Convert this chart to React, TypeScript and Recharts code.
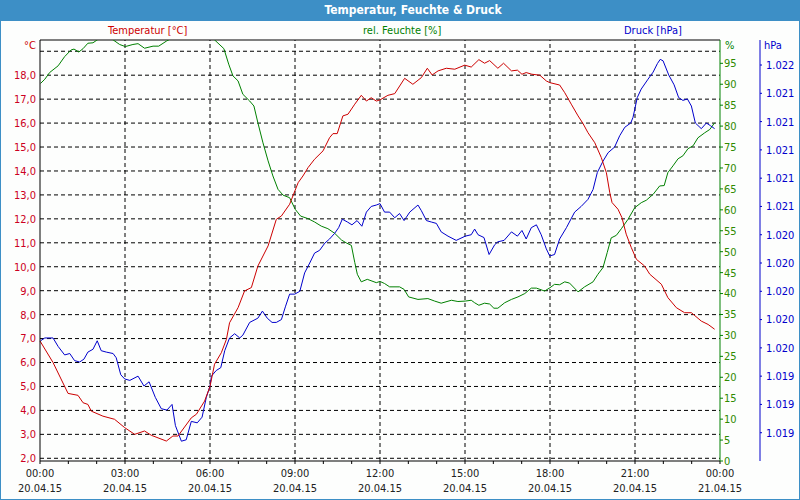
import React from 'react'
import { LineChart, Line, XAxis, YAxis, ReferenceLine } from 'recharts'

// readings, hours since 20.04.15 00:00
const tempHours = [0, 0.46, 0.99, 1.34, 1.52, 1.69, 1.81, 2.22, 2.63, 2.99, 3.34, 3.69, 3.93, 4.46, 4.69, 4.87, 5.34, 5.52, 5.81, 6.0, 6.16, 6.4, 6.58, 6.69, 6.99, 7.22, 7.46, 7.69, 8.05, 8.34, 8.52, 8.81, 9.11, 9.28, 9.46, 9.69, 9.99, 10.22, 10.34, 10.49, 10.69, 10.87, 11.11, 11.34, 11.52, 11.69, 11.87, 12.0, 12.28, 12.52, 12.87, 13.16, 13.46, 13.67, 13.84, 14.05, 14.34, 14.64, 14.99, 15.22, 15.49, 15.69, 15.87, 16.16, 16.36, 16.64, 16.85, 17.01, 17.16, 17.36, 17.64, 17.87, 17.99, 18.34, 18.52, 18.75, 18.99, 19.16, 19.34, 19.58, 19.81, 19.99, 20.11, 20.19, 20.4, 20.54, 20.69, 20.87, 21.05, 21.34, 21.52, 21.93, 22.16, 22.46, 22.75, 22.99, 23.34, 23.58, 23.81]
const tempValues = [6.9, 6.0, 4.71, 4.63, 4.32, 4.25, 3.97, 3.76, 3.63, 3.28, 3.0, 3.14, 2.96, 2.72, 2.93, 2.93, 3.69, 3.84, 4.39, 5.0, 5.93, 6.41, 6.97, 7.66, 8.29, 8.99, 9.13, 10.03, 10.87, 11.98, 12.12, 12.61, 13.51, 13.79, 14.14, 14.49, 14.84, 15.39, 15.56, 15.56, 16.3, 16.37, 16.79, 17.16, 16.92, 17.06, 16.92, 16.97, 17.16, 17.23, 17.87, 17.62, 17.9, 18.29, 18.01, 18.18, 18.29, 18.25, 18.42, 18.34, 18.65, 18.5, 18.61, 18.29, 18.5, 18.18, 18.21, 18.04, 18.11, 18.04, 18.0, 17.76, 17.69, 17.59, 17.27, 16.79, 16.3, 15.99, 15.6, 15.18, 14.56, 13.93, 13.09, 12.68, 12.4, 12.05, 11.36, 10.8, 10.31, 10.03, 9.69, 9.27, 8.71, 8.29, 8.08, 8.08, 7.73, 7.59, 7.39]

const humHours = [0.02, 0.17, 0.34, 0.64, 0.87, 1.1, 1.2, 1.37, 1.52, 1.69, 1.87, 2.02, 2.3, 2.58, 2.81, 3.01, 3.28, 3.46, 3.69, 3.99, 4.19, 4.46, 4.6, 5.0, 5.5, 5.9, 6.16, 6.49, 6.66, 6.81, 6.99, 7.16, 7.4, 7.55, 7.69, 7.87, 8.05, 8.22, 8.4, 8.58, 8.81, 9.01, 9.2, 9.46, 9.69, 9.93, 10.16, 10.4, 10.64, 10.81, 10.99, 11.11, 11.2, 11.34, 11.55, 11.87, 12.0, 12.16, 12.34, 12.69, 12.85, 13.01, 13.34, 13.69, 13.93, 14.16, 14.52, 14.75, 15.01, 15.22, 15.34, 15.49, 15.69, 15.87, 16.02, 16.16, 16.4, 16.64, 16.87, 17.11, 17.34, 17.52, 17.81, 18.0, 18.16, 18.34, 18.52, 18.69, 18.99, 19.22, 19.52, 19.69, 19.87, 20.02, 20.16, 20.34, 20.52, 20.75, 20.99, 21.22, 21.4, 21.64, 21.87, 22.03, 22.16, 22.34, 22.52, 22.69, 22.87, 23.05, 23.22, 23.46, 23.64, 23.81]
const humValues = [90.2, 91.2, 92.8, 94.4, 96.6, 98.2, 98.4, 97.7, 98.5, 99.8, 99.9, 100.6, 101.5, 100.6, 99.5, 99.0, 99.5, 99.7, 98.6, 99.1, 99.1, 100.3, 100.8, 102.5, 103, 102, 100.6, 98.5, 94.8, 92.0, 90.8, 87.6, 86.0, 84.8, 80.8, 76.0, 71.7, 68.1, 64.9, 63.5, 62.9, 60.1, 58.5, 57.9, 57.1, 56.1, 55.5, 54.4, 52.8, 52.1, 51.5, 47.4, 44.6, 42.8, 43.4, 42.6, 42.9, 42.4, 41.6, 41.6, 41.0, 39.2, 38.6, 38.8, 38.2, 37.7, 38.4, 38.1, 38.2, 38.4, 37.8, 37.2, 37.7, 37.5, 36.5, 36.5, 37.8, 38.6, 39.2, 40.0, 41.3, 41.3, 40.6, 41.4, 42.2, 42.1, 42.8, 42.5, 40.4, 41.6, 42.8, 44.6, 46.2, 49.8, 53.3, 53.9, 55.5, 57.7, 60.5, 61.7, 62.3, 63.7, 65.7, 65.8, 68.9, 70.5, 72.2, 72.9, 74.6, 75.3, 77.2, 78.4, 79.2, 80.8]

const pressHours = [0.02, 0.17, 0.46, 0.64, 0.87, 1.05, 1.22, 1.4, 1.55, 1.69, 1.87, 2.02, 2.16, 2.34, 2.58, 2.69, 2.85, 2.99, 3.17, 3.46, 3.67, 3.85, 4.07, 4.28, 4.48, 4.66, 4.78, 4.99, 5.16, 5.34, 5.55, 5.72, 5.87, 6.0, 6.05, 6.22, 6.38, 6.52, 6.69, 6.87, 7.05, 7.16, 7.4, 7.69, 7.85, 8.02, 8.19, 8.34, 8.52, 8.66, 8.81, 8.99, 9.17, 9.34, 9.52, 9.69, 9.87, 10.05, 10.22, 10.4, 10.54, 10.67, 10.85, 11.01, 11.19, 11.36, 11.52, 11.69, 11.87, 12.0, 12.16, 12.34, 12.52, 12.69, 12.85, 13.05, 13.34, 13.46, 13.64, 13.81, 13.99, 14.16, 14.4, 14.69, 15.01, 15.22, 15.34, 15.46, 15.67, 15.85, 16.05, 16.16, 16.38, 16.64, 16.85, 17.01, 17.16, 17.34, 17.52, 17.69, 17.87, 17.99, 18.16, 18.34, 18.58, 18.87, 19.1, 19.34, 19.52, 19.67, 19.87, 20.05, 20.28, 20.46, 20.64, 20.85, 20.93, 21.08, 21.22, 21.46, 21.64, 21.79, 21.89, 21.99, 22.19, 22.38, 22.54, 22.69, 22.85, 22.99, 23.13, 23.34, 23.52, 23.67, 23.81]
const pressValues = [1019.65, 1019.67, 1019.67, 1019.61, 1019.55, 1019.56, 1019.51, 1019.5, 1019.52, 1019.57, 1019.59, 1019.65, 1019.58, 1019.57, 1019.56, 1019.53, 1019.41, 1019.38, 1019.37, 1019.4, 1019.33, 1019.36, 1019.25, 1019.17, 1019.16, 1019.2, 1019.05, 1018.94, 1018.95, 1019.08, 1019.07, 1019.11, 1019.25, 1019.33, 1019.4, 1019.44, 1019.46, 1019.58, 1019.67, 1019.7, 1019.67, 1019.69, 1019.78, 1019.81, 1019.86, 1019.81, 1019.78, 1019.78, 1019.8, 1019.89, 1019.98, 1019.98, 1020.0, 1020.13, 1020.2, 1020.27, 1020.29, 1020.34, 1020.37, 1020.41, 1020.45, 1020.51, 1020.49, 1020.47, 1020.5, 1020.46, 1020.56, 1020.6, 1020.61, 1020.62, 1020.56, 1020.56, 1020.52, 1020.55, 1020.5, 1020.56, 1020.61, 1020.57, 1020.5, 1020.49, 1020.48, 1020.42, 1020.39, 1020.36, 1020.39, 1020.4, 1020.44, 1020.4, 1020.38, 1020.26, 1020.33, 1020.35, 1020.36, 1020.42, 1020.39, 1020.43, 1020.37, 1020.45, 1020.47, 1020.4, 1020.3, 1020.25, 1020.26, 1020.37, 1020.45, 1020.56, 1020.6, 1020.65, 1020.72, 1020.84, 1020.92, 1020.98, 1021.02, 1021.1, 1021.16, 1021.19, 1021.23, 1021.37, 1021.43, 1021.5, 1021.55, 1021.61, 1021.64, 1021.63, 1021.53, 1021.46, 1021.37, 1021.35, 1021.36, 1021.31, 1021.19, 1021.15, 1021.19, 1021.17, 1021.15]

// axes
const hourTicks = [0, 1, 2, 3, 4, 5, 6, 7, 8, 9, 10, 11, 12, 13, 14, 15, 16, 17, 18, 19, 20, 21, 22, 23, 24]
const gridHours = [3, 6, 9, 12, 15, 18, 21]
const timeLabels = ['00:00', '03:00', '06:00', '09:00', '12:00', '15:00', '18:00', '21:00', '00:00']
const dateLabels = ['20.04.15', '20.04.15', '20.04.15', '20.04.15', '20.04.15', '20.04.15', '20.04.15', '20.04.15', '21.04.15']
const tempTicks = [2, 3, 4, 5, 6, 7, 8, 9, 10, 11, 12, 13, 14, 15, 16, 17, 18]
const tempGrid = [2, 3, 4, 5, 6, 7, 8, 9, 10, 11, 12, 13, 14, 15, 16, 17, 18, 19]
const humTicks = [0, 5, 10, 15, 20, 25, 30, 35, 40, 45, 50, 55, 60, 65, 70, 75, 80, 85, 90, 95]
const pressTicks = [1019.0, 1019.2, 1019.4, 1019.6, 1019.8, 1020.0, 1020.2, 1020.4, 1020.6, 1020.8, 1021.0, 1021.2, 1021.4, 1021.6]

const TEMP_DOMAIN: [number, number] = [1.887, 19.47]
const HUM_DOMAIN: [number, number] = [0, 100.57]
const PRESS_DOMAIN: [number, number] = [1018.8, 1021.777]

const RED = '#cc0000'
const GREEN = '#008000'
const BLUE = '#0000cc'
const FRAME = '#3d8fc6'
const FONT = "'DejaVu Sans Condensed', 'Liberation Sans', sans-serif"

const tempData = tempHours.map((t, i) => ({ t, v: tempValues[i] }))
const humData = humHours.map((t, i) => ({ t, v: humValues[i] }))
const pressData = pressHours.map((t, i) => ({ t, v: pressValues[i] }))

const TimeTick = (props: any) => {
    const { x, y, payload } = props
    const h = payload.value
    if (h % 3 !== 0) return <g />
    const i = h / 3
    return (
        <g>
            <text x={x} y={y + 11} textAnchor="middle" fontSize={11} fontFamily={FONT} fill="#222">{timeLabels[i]}</text>
            <text x={x} y={y + 26} textAnchor="middle" fontSize={11} fontFamily={FONT} fill="#222">{dateLabels[i]}</text>
        </g>
    )
}

const label = (text: string, color: string, style: React.CSSProperties) => (
    <div style={{ position: 'absolute', color, fontSize: 11, fontFamily: FONT, lineHeight: '13px', whiteSpace: 'nowrap', ...style }}>
        {text}
    </div>
)

export default function App() {
    return (
        <div style={{ position: 'absolute', left: 0, top: 0, width: 800, height: 500, background: '#fdfefd', overflow: 'hidden' }}>
            <LineChart width={800} height={500} margin={{ top: 40, right: 0, bottom: 0, left: 0 }} style={{ position: 'absolute', left: 0, top: 0 }}>
                <XAxis
                    xAxisId="time"
                    type="number"
                    dataKey="t"
                    domain={[0, 24]}
                    ticks={hourTicks}
                    interval={0}
                    height={39}
                    tick={<TimeTick />}
                    tickSize={3}
                    tickMargin={2}
                    axisLine={{ stroke: '#000' }}
                    tickLine={{ stroke: '#000' }}
                />
                <YAxis
                    yAxisId="temp"
                    orientation="left"
                    width={40}
                    type="number"
                    domain={TEMP_DOMAIN}
                    ticks={tempTicks}
                    interval={0}
                    allowDataOverflow
                    tickLine={false}
                    tickSize={0}
                    tickMargin={4}
                    axisLine={{ stroke: '#000' }}
                    tick={{ fill: '#cc0022', fontSize: 11, fontFamily: FONT }}
                    tickFormatter={(v: number) => v.toFixed(1).replace('.', ',')}
                />
                <YAxis
                    yAxisId="hum"
                    orientation="right"
                    width={40}
                    type="number"
                    domain={HUM_DOMAIN}
                    ticks={humTicks}
                    interval={0}
                    allowDataOverflow
                    tickSize={3}
                    tickMargin={1}
                    axisLine={{ stroke: GREEN }}
                    tickLine={{ stroke: GREEN }}
                    tick={{ fill: '#2f8a00', fontSize: 11, fontFamily: FONT, textAnchor: 'start' }}
                />
                <YAxis
                    yAxisId="press"
                    orientation="right"
                    width={40}
                    type="number"
                    domain={PRESS_DOMAIN}
                    ticks={pressTicks}
                    interval={0}
                    allowDataOverflow
                    tickSize={2}
                    tickMargin={4}
                    axisLine={{ stroke: BLUE }}
                    tickLine={{ stroke: BLUE }}
                    tick={{ fill: BLUE, fontSize: 11, fontFamily: FONT, textAnchor: 'start' }}
                    tickFormatter={(v: number) => (Math.round(v) / 1000).toFixed(3)}
                />

                {/* dashed grid */}
                {tempGrid.map(v => (
                    <ReferenceLine key={'h' + v} xAxisId="time" yAxisId="temp" y={v} stroke="#000" strokeDasharray="4 3" />
                ))}
                {gridHours.map(h => (
                    <ReferenceLine key={'v' + h} xAxisId="time" yAxisId="temp" x={h} stroke="#000" strokeDasharray="4 3" />
                ))}
                <ReferenceLine xAxisId="time" yAxisId="temp" y={TEMP_DOMAIN[1]} stroke="#000" />

                <Line xAxisId="time" yAxisId="hum" data={humData} dataKey="v" type="linear" stroke={GREEN} strokeWidth={1} dot={false} isAnimationActive={false} />
                <Line xAxisId="time" yAxisId="press" data={pressData} dataKey="v" type="linear" stroke={BLUE} strokeWidth={1} dot={false} isAnimationActive={false} />
                <Line xAxisId="time" yAxisId="temp" data={tempData} dataKey="v" type="linear" stroke={RED} strokeWidth={1} dot={false} isAnimationActive={false} />
            </LineChart>

            {/* title bar */}
            <div style={{ position: 'absolute', left: 0, top: 0, width: 800, height: 21, background: FRAME, color: '#fff', fontFamily: FONT, fontWeight: 'bold', fontSize: 12, lineHeight: '21px', textAlign: 'center', textIndent: 26 }}>
                Temperatur, Feuchte &amp; Druck
            </div>

            {label('Temperatur [°C]', RED, { left: 108, top: 24 })}
            {label('rel. Feuchte [%]', GREEN, { left: 363, top: 24 })}
            {label('Druck [hPa]', BLUE, { left: 624, top: 24 })}
            {label('°C', RED, { left: 24, top: 39 })}
            {label('%', GREEN, { left: 725, top: 39 })}
            {label('hPa', BLUE, { left: 764, top: 39 })}

            <div style={{ position: 'absolute', inset: 0, border: `1px solid ${FRAME}`, boxSizing: 'border-box', pointerEvents: 'none' }} />
        </div>
    )
}
